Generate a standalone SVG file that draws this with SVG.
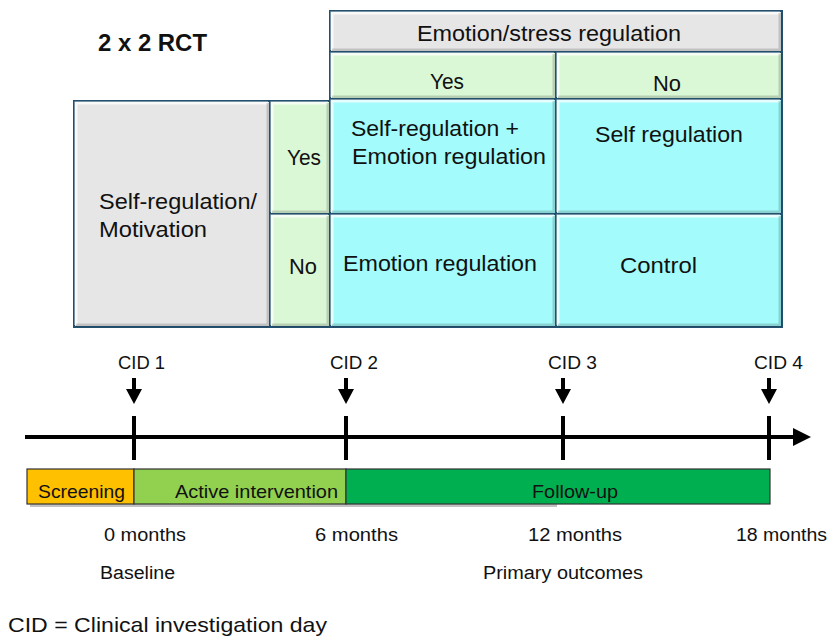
<svg xmlns="http://www.w3.org/2000/svg" width="829" height="637" viewBox="0 0 829 637">
<style>
text{font-family:"Liberation Sans",Arial,sans-serif;fill:#111}
.t{font-size:22px}
.s{font-size:18px}
.b{font-size:19px}
.cell{stroke:#24506F;stroke-width:2}
.gray{fill:#E6E6E6}
.green{fill:#DBF8D6}
.cyan{fill:#A3FBFB}
.hi{fill:none;stroke:#fff;stroke-opacity:.75;stroke-width:3}
.sh{fill:none;stroke:#000;stroke-opacity:.16;stroke-width:3}
.tick{stroke:#000;stroke-width:4}
.bar{stroke:#333;stroke-width:1.2}
</style>
<rect width="829" height="637" fill="#fff"/>
<text x="98" y="51" style="font-size:24px;font-weight:bold" textLength="109" lengthAdjust="spacingAndGlyphs">2 x 2 RCT</text>

<g id="header">
<rect class="cell gray" x="330" y="11" width="452" height="41"/>
<path class="hi" d="M332,50V13H780"/><path class="sh" d="M332,50H780V13"/>
<text class="t" x="417" y="41" textLength="264" lengthAdjust="spacingAndGlyphs">Emotion/stress regulation</text>
</g>
<g id="col-yes">
<rect class="cell green" x="330" y="52" width="226" height="47"/>
<path class="hi" d="M332,97V54H554"/><path class="sh" d="M332,97H554V54"/>
<text class="t" x="430" y="89" textLength="34" lengthAdjust="spacingAndGlyphs">Yes</text>
</g>
<g id="col-no">
<rect class="cell green" x="556" y="52" width="226" height="47"/>
<path class="hi" d="M558,97V54H780"/><path class="sh" d="M558,97H780V54"/>
<text class="t" x="653" y="91" textLength="28" lengthAdjust="spacingAndGlyphs">No</text>
</g>
<g id="row-header">
<rect class="cell gray" x="74" y="101" width="196" height="226"/>
<path class="hi" d="M76,325V103H268"/><path class="sh" d="M76,325H268V103"/>
<text class="t" x="99" y="209" textLength="158" lengthAdjust="spacingAndGlyphs">Self-regulation/</text>
<text class="t" x="99" y="237" textLength="108" lengthAdjust="spacingAndGlyphs">Motivation</text>
</g>
<g id="row-yes">
<rect class="cell green" x="270" y="101" width="60" height="113"/>
<path class="hi" d="M272,212V103H328"/><path class="sh" d="M272,212H328V103"/>
<text class="t" x="287" y="165" textLength="34" lengthAdjust="spacingAndGlyphs">Yes</text>
</g>
<g id="row-no">
<rect class="cell green" x="270" y="214" width="60" height="113"/>
<path class="hi" d="M272,325V216H328"/><path class="sh" d="M272,325H328V216"/>
<text class="t" x="289" y="274" textLength="28" lengthAdjust="spacingAndGlyphs">No</text>
</g>
<g id="cell-self-emotion">
<rect class="cell cyan" x="330" y="99" width="226" height="115"/>
<path class="hi" d="M332,212V101H554"/><path class="sh" d="M332,212H554V101"/>
<text class="t" x="351" y="136" textLength="168" lengthAdjust="spacingAndGlyphs">Self-regulation +</text>
<text class="t" x="352" y="164" textLength="194" lengthAdjust="spacingAndGlyphs">Emotion regulation</text>
</g>
<g id="cell-self">
<rect class="cell cyan" x="556" y="99" width="226" height="115"/>
<path class="hi" d="M558,212V101H780"/><path class="sh" d="M558,212H780V101"/>
<text class="t" x="595" y="142" textLength="148" lengthAdjust="spacingAndGlyphs">Self regulation</text>
</g>
<g id="cell-emotion">
<rect class="cell cyan" x="330" y="214" width="226" height="113"/>
<path class="hi" d="M332,325V216H554"/><path class="sh" d="M332,325H554V216"/>
<text class="t" x="343" y="271" textLength="194" lengthAdjust="spacingAndGlyphs">Emotion regulation</text>
</g>
<g id="cell-control">
<rect class="cell cyan" x="556" y="214" width="226" height="113"/>
<path class="hi" d="M558,325V216H780"/><path class="sh" d="M558,325H780V216"/>
<text class="t" x="620" y="273" textLength="77" lengthAdjust="spacingAndGlyphs">Control</text>
</g>

<g id="connectors">
<line x1="25" y1="437" x2="796" y2="437" stroke="#000" stroke-width="4"/>
<polygon points="793,428 811,437 793,446" fill="#000"/>
<line class="tick" x1="134" y1="416" x2="134" y2="460"/>
<line class="tick" x1="346" y1="416" x2="346" y2="460"/>
<line class="tick" x1="563" y1="416" x2="563" y2="460"/>
<line class="tick" x1="769" y1="416" x2="769" y2="460"/>
<g fill="#000">
<rect x="132" y="378" width="4" height="12"/><polygon points="126,389 142,389 134,404"/>
<rect x="344" y="378" width="4" height="12"/><polygon points="338,389 354,389 346,404"/>
<rect x="561" y="378" width="4" height="12"/><polygon points="555,389 571,389 563,404"/>
<rect x="767" y="378" width="4" height="12"/><polygon points="761,389 777,389 769,404"/>
</g>
</g>

<g id="cid-labels">
<text class="s" x="118" y="369" textLength="47" lengthAdjust="spacingAndGlyphs">CID 1</text>
<text class="s" x="330" y="369" textLength="48" lengthAdjust="spacingAndGlyphs">CID 2</text>
<text class="s" x="548" y="369" textLength="49" lengthAdjust="spacingAndGlyphs">CID 3</text>
<text class="s" x="754" y="369" textLength="49" lengthAdjust="spacingAndGlyphs">CID 4</text>
</g>

<rect x="30" y="504" width="527" height="3" fill="#777" opacity=".45"/>
<g id="screening">
<rect class="bar" x="27" y="469" width="107" height="35" fill="#FFC000"/>
<text class="b" x="38" y="498" textLength="87" lengthAdjust="spacingAndGlyphs">Screening</text>
</g>
<g id="active">
<rect class="bar" x="134" y="469" width="212" height="35" fill="#92D050"/>
<text class="b" x="175" y="498" textLength="163" lengthAdjust="spacingAndGlyphs">Active intervention</text>
</g>
<g id="followup">
<rect class="bar" x="346" y="469" width="424" height="35" fill="#00B050"/>
<text class="b" x="532" y="498" textLength="86" lengthAdjust="spacingAndGlyphs">Follow-up</text>
</g>

<g id="months">
<text class="s" x="104" y="541" textLength="82" lengthAdjust="spacingAndGlyphs">0 months</text>
<text class="s" x="315" y="541" textLength="83" lengthAdjust="spacingAndGlyphs">6 months</text>
<text class="s" x="528" y="541" textLength="94" lengthAdjust="spacingAndGlyphs">12 months</text>
<text class="s" x="736" y="541" textLength="91" lengthAdjust="spacingAndGlyphs">18 months</text>
<text class="s" x="100" y="579" textLength="75" lengthAdjust="spacingAndGlyphs">Baseline</text>
<text class="s" x="483" y="579" textLength="160" lengthAdjust="spacingAndGlyphs">Primary outcomes</text>
</g>
<text x="8" y="632" style="font-size:21px" textLength="319" lengthAdjust="spacingAndGlyphs">CID = Clinical investigation day</text>
</svg>
